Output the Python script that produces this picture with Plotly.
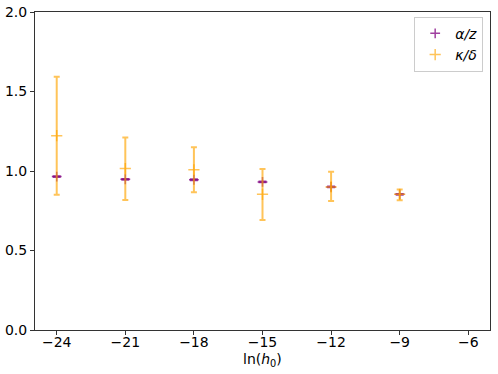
import plotly.graph_objects as go

x = [-24, -21, -18, -15, -12, -9]
alpha_z = [0.965, 0.948, 0.945, 0.931, 0.900, 0.853]
alpha_err = [0.004, 0.004, 0.004, 0.004, 0.004, 0.004]
kappa_delta = [1.222, 1.015, 1.008, 0.853, 0.900, 0.853]
kappa_hi = [1.593, 1.210, 1.149, 1.013, 0.996, 0.883]
kappa_lo = [0.851, 0.818, 0.866, 0.692, 0.811, 0.816]

err_plus = [h - c for h, c in zip(kappa_hi, kappa_delta)]
err_minus = [c - l for c, l in zip(kappa_delta, kappa_lo)]

orange = "rgba(255,165,0,0.65)"
purple = "rgba(128,0,128,0.75)"

fig = go.Figure()
fig.add_trace(go.Scatter(
    x=x, y=alpha_z, mode="markers", name="<i>α/z</i>",
    marker=dict(symbol="cross-thin", size=7, color=purple,
                line=dict(width=1.5, color=purple)),
    error_y=dict(type="data", array=alpha_err, color=purple, thickness=1.5, width=4),
))
fig.add_trace(go.Scatter(
    x=x, y=kappa_delta, mode="markers", name="<i>κ/δ</i>",
    marker=dict(symbol="cross-thin", size=8, color=orange,
                line=dict(width=1.5, color=orange)),
    error_y=dict(type="data", symmetric=False, array=err_plus, arrayminus=err_minus,
                 color=orange, thickness=2, width=3),
))

axis_common = dict(showline=True, linecolor="#333", linewidth=1, mirror=True,
                   ticks="outside", ticklen=4, tickcolor="#333", showgrid=False,
                   zeroline=False, automargin=False, tickfont=dict(size=14, color="black"))
fig.update_xaxes(range=[-24.95, -5.05], tickvals=[-24, -21, -18, -15, -12, -9, -6],
                 ticktext=["−24", "−21", "−18", "−15", "−12", "−9", "−6"],
                 ticklabelstandoff=-5, **axis_common)
fig.update_yaxes(range=[0, 2], tickvals=[0, 0.5, 1.0, 1.5, 2.0], tickformat=".1f", **axis_common)

fig.add_annotation(text="ln(<i>h</i><sub>0</sub>)", xref="paper", yref="paper", x=0.5, y=0,
                   yshift=-30, showarrow=False, yanchor="middle", font=dict(size=14, color="black"))

fig.update_layout(
    width=498, height=374,
    margin=dict(l=35, r=8, t=12, b=44),
    paper_bgcolor="white", plot_bgcolor="white",
    font=dict(family="DejaVu Sans", size=14, color="black"),
    legend=dict(x=0.985, y=0.985, xanchor="right", yanchor="top",
                bordercolor="#ccc", borderwidth=1, bgcolor="rgba(255,255,255,0.8)",
                font=dict(size=14), itemwidth=30),
    showlegend=True,
)
fig.write_html("out.html", post_script="document.body.style.margin='0';",
               config={"displayModeBar": False})
